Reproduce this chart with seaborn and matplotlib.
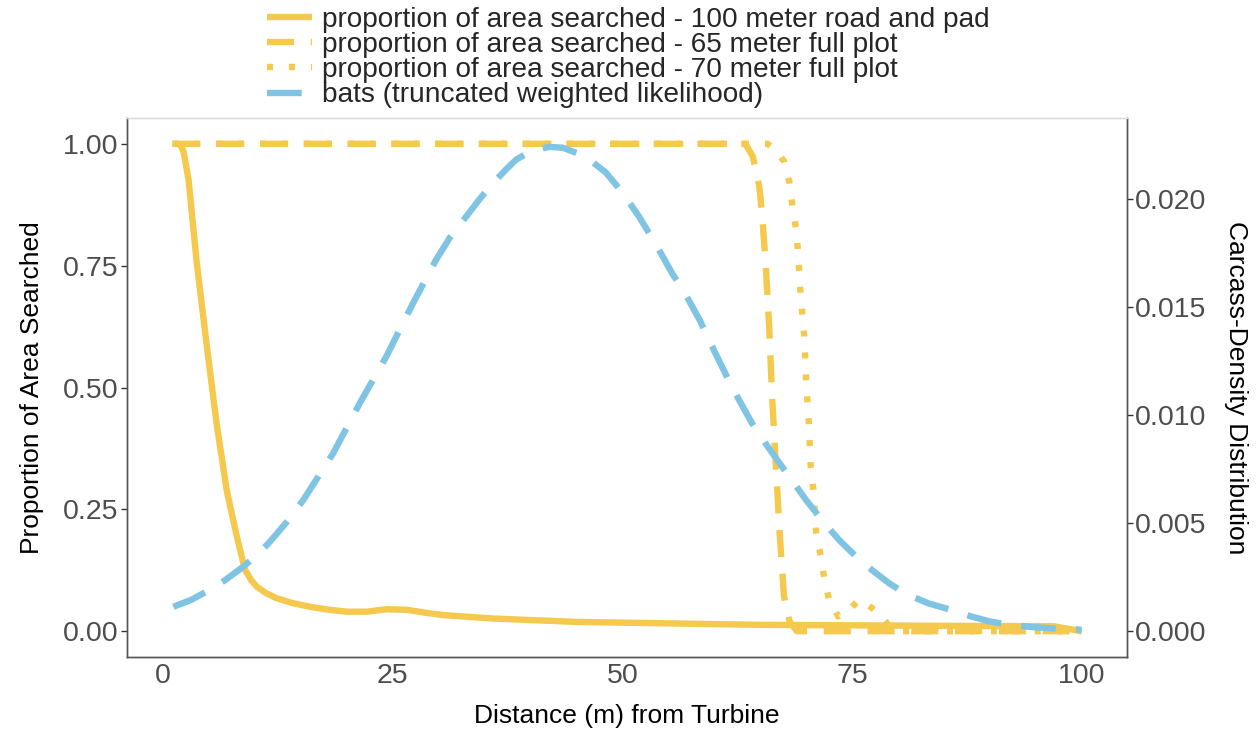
import matplotlib
matplotlib.use("Agg")
import matplotlib.pyplot as plt
import seaborn as sns

# ---- data ----
dist_road = [1.8, 2.2, 2.75, 3.65, 4.75, 5.8, 6.9, 8.0, 8.9, 9.6, 10.2, 11.2, 12.3, 14.0, 16.0, 18.0,
             20.0, 22.2, 24.3, 26.5, 28.5, 30.5, 35.9, 45.0, 55.0, 65.0, 75.0, 85.0, 97.0, 100.0]
prop_road = [1.0, 0.985, 0.927, 0.755, 0.584, 0.427, 0.29, 0.195, 0.126, 0.104, 0.091, 0.078, 0.068, 0.058,
             0.05, 0.044, 0.04, 0.04, 0.045, 0.044, 0.038, 0.033, 0.026, 0.019, 0.016, 0.013, 0.012, 0.011,
             0.01, 0.0]

dist_65 = [1.0, 63.4, 64.2, 64.9, 65.2, 65.6, 66.0, 66.3, 66.7, 67.1, 67.6, 68.2, 69.0, 100.0]
prop_65 = [1.0, 1.0, 0.974, 0.913, 0.858, 0.755, 0.618, 0.481, 0.345, 0.208, 0.071, 0.02, 0.0, 0.0]

dist_70 = [1.0, 65.8, 66.8, 67.6, 68.2, 68.5, 68.9, 69.1, 69.4, 69.8, 70.0, 70.3, 70.5, 70.8, 71.1,
           71.6, 72.0, 72.5, 73.5, 74.5, 75.8, 77.0, 78.0, 79.0, 80.0, 100.0]
prop_70 = [1.0, 1.0, 0.985, 0.964, 0.92, 0.875, 0.827, 0.783, 0.694, 0.605, 0.516, 0.427, 0.338, 0.29,
           0.202, 0.154, 0.106, 0.065, 0.03, 0.04, 0.065, 0.05, 0.035, 0.012, 0.0, 0.0]

dist_bats = [1.1, 3.0, 4.7, 6.7, 8.7, 10.2, 11.6, 13.4, 15.25, 18.5, 21.4, 24.3, 27.2, 29.7, 31.3,
             33.0, 34.5, 35.9, 37.2, 38.4, 40.0, 42.0, 43.5, 45.3, 46.8, 48.2, 50.0, 51.8, 53.6, 55.4,
             57.0, 58.4, 60.0, 61.2, 62.6, 64.1, 65.6, 67.1, 68.6, 70.0, 71.8, 73.6, 75.4, 77.2, 79.0,
             80.8, 83.3, 85.9, 88.0, 90.0, 92.5, 95.0, 97.5, 100.0]
dens_bats = [0.00113, 0.00144, 0.00183, 0.00235, 0.00298, 0.00352, 0.00413, 0.00503, 0.00607, 0.00823,
             0.01055, 0.01272, 0.01518, 0.01718, 0.01827, 0.01919, 0.02002, 0.02072, 0.02131, 0.02181,
             0.02221, 0.02241, 0.02237, 0.02208, 0.02169, 0.02122, 0.02030, 0.01919, 0.01793, 0.01657,
             0.01549, 0.01441, 0.01297, 0.01193, 0.01078, 0.00963, 0.00868, 0.00778, 0.00690, 0.00607,
             0.00510, 0.00422, 0.00347, 0.00282, 0.00223, 0.00174, 0.00129, 0.00097, 0.00068, 0.00045,
             0.00027, 0.00018, 0.00011, 0.00007]

labels = ["proportion of area searched - 100 meter road and pad",
          "proportion of area searched - 65 meter full plot",
          "proportion of area searched - 70 meter full plot",
          "bats (truncated weighted likelihood)"]

x_ticks = [0, 25, 50, 75, 100]
y_ticks = [0.0, 0.25, 0.5, 0.75, 1.0]
y2_ticks = [0.0, 0.005, 0.010, 0.015, 0.020]

YELLOW = "#F5C94E"
BLUE = "#80C4E3"

# ---- style ----
sns.set_style("white")
plt.rcParams["font.family"] = ["Liberation Sans", "DejaVu Sans"]
plt.rcParams["lines.scale_dashes"] = False

fig = plt.figure(figsize=(12.57, 7.40), dpi=100)
ax = fig.add_axes([127 / 1257, 1 - 657 / 740, 1000 / 1257, 539 / 740])
ax2 = ax.twinx()

LW = 4.6
sns.lineplot(x=dist_road, y=prop_road, ax=ax, color=YELLOW, linewidth=LW, sort=False,
             solid_capstyle="butt", label=labels[0], legend=False)
sns.lineplot(x=dist_65, y=prop_65, ax=ax, color=YELLOW, linewidth=LW, sort=False,
             linestyle=(0, (19.5, 12.0)), label=labels[1], legend=False)
sns.lineplot(x=dist_70, y=prop_70, ax=ax, color=YELLOW, linewidth=LW, sort=False,
             linestyle=(0, (4.3, 11.5)), label=labels[2], legend=False)
sns.lineplot(x=dist_bats, y=dens_bats, ax=ax2, color=BLUE, linewidth=LW, sort=False,
             linestyle=(0, (25.0, 14.5)), label=labels[3], legend=False)

# scales: secondary axis is a fixed multiple of the primary
k = 0.02255
ax.set_xlim(-3.95, 104.95)
ax.set_ylim(-0.053, 1.053)
ax2.set_ylim(-0.053 * k, 1.053 * k)

ax.set_xticks(x_ticks)
ax.set_xticklabels([str(t) for t in x_ticks])
ax.set_yticks(y_ticks)
ax.set_yticklabels([f"{t:.2f}" for t in y_ticks])
ax2.set_yticks(y2_ticks)
ax2.set_yticklabels([f"{t:.3f}" for t in y2_ticks])

for a in (ax, ax2):
    a.tick_params(length=4, width=1, color="#333333", labelcolor="#4D4D4D", labelsize=20.5, pad=2)
    a.grid(False)
ax.tick_params(axis="x", pad=0)

for a in (ax, ax2):
    a.spines["top"].set_color("#DDDDDD")
    a.spines["left"].set_color("#555555")
    a.spines["bottom"].set_color("#555555")
    a.spines["right"].set_color("#555555")
    for s in a.spines.values():
        s.set_linewidth(1.0)

ax.set_xlabel("Distance (m) from Turbine", fontsize=19, color="black", labelpad=11)
ax.set_ylabel("Proportion of Area Searched", fontsize=19, color="black", labelpad=14)
ax2.set_ylabel("Carcass-Density Distribution", fontsize=19, color="black", rotation=270,
               va="bottom", labelpad=12)

h1, l1 = ax.get_legend_handles_labels()
h2, l2 = ax2.get_legend_handles_labels()
leg = fig.legend(h1 + h2, l1 + l2, loc="upper left", bbox_to_anchor=(267 / 1257, 1 - 7 / 740),
                 frameon=False, fontsize=20.2, handlelength=1.6, handletextpad=0.35,
                 labelspacing=-0.03, borderpad=0, borderaxespad=0)

fig.savefig("out.png", dpi=100, facecolor="white")
